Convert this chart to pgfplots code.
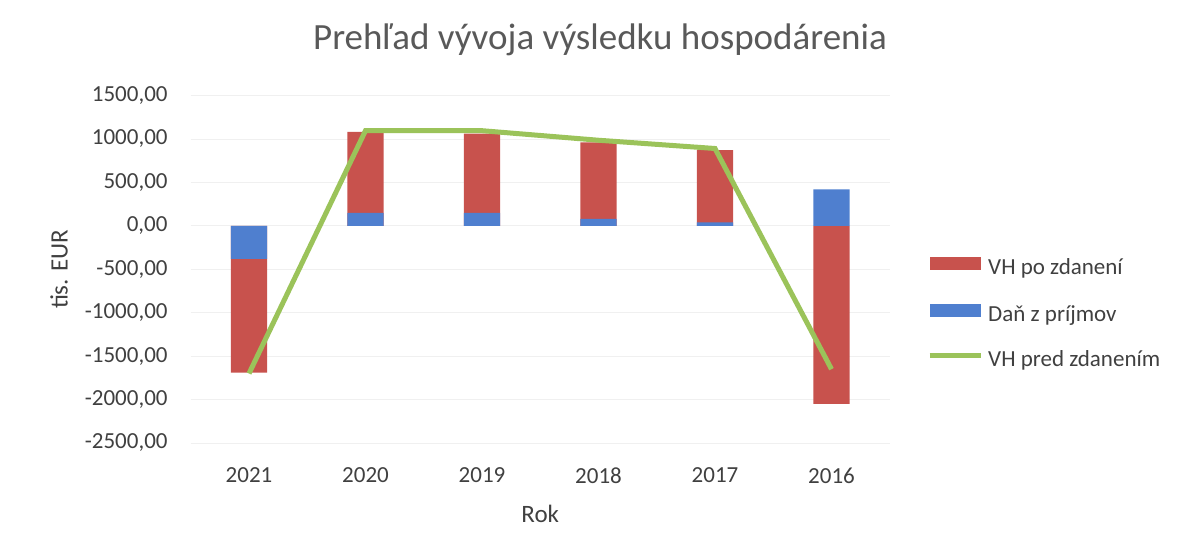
\documentclass[border=0pt]{standalone}
\usepackage{pgfplots}
\pgfplotsset{compat=1.18}
\usepackage{fontspec}
\setmainfont{Carlito}
\definecolor{txt}{HTML}{404040}
\definecolor{ttl}{HTML}{595959}
\definecolor{vhred}{HTML}{C8524D}
\definecolor{vhblue}{HTML}{4F7FCF}
\definecolor{vhgreen}{HTML}{9BC35A}
\begin{document}
\begin{tikzpicture}
\path[use as bounding box] (-190.75pt,-109pt) rectangle (995.25pt,443pt);
\begin{axis}[
  at={(0pt,0pt)}, anchor=south west,
  scale only axis, width=699pt, height=347.5pt,
  xmin=-0.5, xmax=5.5, ymin=-2500, ymax=1500,
  ytick={-2500,-2000,...,1500},
  xtick={0,1,2,3,4,5},
  xticklabels={2021,2020,2019,2018,2017,2016},
  axis line style={draw=none}, major tick length=0pt,
  ymajorgrids, grid style={black!6, line width=0.8pt},
  /pgf/number format/assume math mode=true,
  ticklabel style={font=\fontsize{23}{27}\selectfont, text=txt},
  yticklabel style={/pgf/number format/fixed, /pgf/number format/fixed zerofill,
    /pgf/number format/precision=2, /pgf/number format/use comma,
    /pgf/number format/1000 sep={}, anchor=east, inner sep=0pt, xshift=-23pt},
  xticklabel style={anchor=north, inner sep=0pt, yshift=-24.7pt},
  xlabel={Rok},
  xlabel style={at={(axis description cs:0.5,0)}, anchor=base, yshift=-79pt,
    font=\fontsize{25}{30}\selectfont, text=txt},
  ylabel={tis. EUR},
  ylabel style={at={(axis description cs:-0.1885,0.5)}, anchor=center,
    font=\fontsize{25}{30}\selectfont, text=txt},
  title={Prehľad vývoja výsledku hospodárenia},
  title style={at={(axis description cs:0.5,1)}, anchor=base, xshift=59.75pt, yshift=40.5pt,
    font=\fontsize{37}{44}\selectfont, text=ttl},
  legend cell align=left,
  legend style={draw=none, fill=none, at={(axis description cs:1.0533,0.371)}, anchor=west,
    inner sep=0pt, row sep=24pt, column sep=5pt,
    font=\fontsize{23}{27}\selectfont, text=txt,
    nodes={inner sep=0pt, text height=16pt, text depth=5pt}},
]
\addplot[ybar, bar width=0.31, bar shift=0pt, fill=vhred, draw=none,
  legend image code/.code={\fill[vhred] (0pt,-1pt) rectangle (51pt,12pt);}]
  coordinates {(0,-1690) (1,1080) (2,1060) (3,960) (4,870) (5,-2050)};
\addlegendentry{VH po zdanení}
\addplot[ybar, bar width=0.31, bar shift=0pt, fill=vhblue, draw=none,
  legend image code/.code={\fill[vhblue] (0pt,-1pt) rectangle (51pt,12pt);}]
  coordinates {(0,-380) (1,150) (2,150) (3,80) (4,40) (5,420)};
\addlegendentry{Daň z príjmov}
\addplot[vhgreen, line width=5pt, mark=none,
  legend image code/.code={\draw[vhgreen, line width=5pt] (0pt,5.5pt) -- (51pt,5.5pt);}]
  coordinates {(0,-1700) (1,1095) (2,1095) (3,985) (4,890) (5,-1650)};
\addlegendentry{VH pred zdanením}
\end{axis}
\end{tikzpicture}
\end{document}
